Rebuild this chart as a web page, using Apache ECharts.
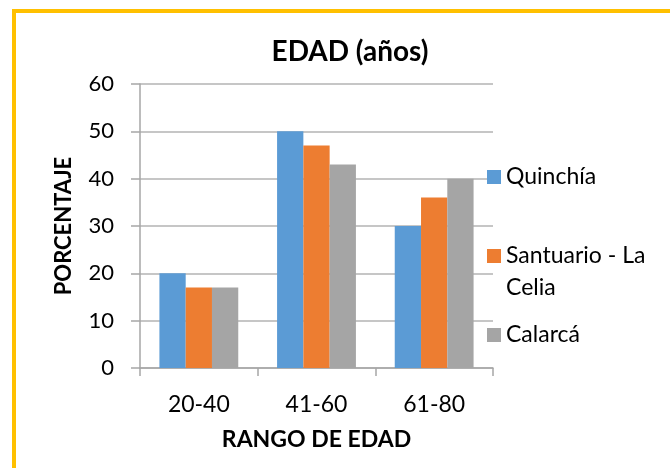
<!DOCTYPE html>
<html lang="es">
<head>
  <meta charset="UTF-8">
  <title>EDAD (años)</title>
  <script src="https://cdn.jsdelivr.net/npm/echarts@6/dist/echarts.min.js"></script>
  <style>
    html, body { margin: 0; padding: 0; background: #fff; }
    #chart { width: 670px; height: 468px; }
    .frame {
      position: absolute;
      left: 12px;
      top: 9px;
      width: 680px;
      height: 480px;
      border-left: 4px solid #FFC000;
      border-top: 4px solid #FFC000;
      pointer-events: none;
    }
  </style>
</head>
<body>
  <div id="chart"></div>
  <div class="frame"></div>
<script>
  const categories = ["20-40", "41-60", "61-80"];
  const quinchia = [20, 50, 30];
  const santuario = [17, 47, 36];
  const calarca = [17, 43, 40];
  const seriesNames = ["Quinchía", "Santuario - La Celia", "Calarcá"];
  const colors = ["#5B9BD5", "#ED7D31", "#A5A5A5"];

  const font = "Lato, 'Open Sans', sans-serif";
  const chart = echarts.init(document.getElementById("chart"));

  // one legend per entry so each can sit where the original puts it
  function legendFor(name, top) {
    return {
      orient: "vertical",
      left: 487,
      top: top,
      padding: 0,
      data: [name],
      itemWidth: 14,
      itemHeight: 14,
      icon: "rect",
      // the long name wraps in the original; first line stays next to the marker
      formatter: (n) => (n === "Santuario - La Celia" ? "Santuario - La" : n),
      textStyle: { fontFamily: font, fontSize: 23, color: "#000", lineHeight: 32 },
      selectedMode: false
    };
  }

  chart.setOption({
    animation: false,
    color: colors,
    title: {
      text: "EDAD (años)",
      left: 350,
      textAlign: "center",
      top: 38,
      padding: 0,
      textStyle: { fontFamily: font, fontSize: 28, fontWeight: "bold", color: "#000" }
    },
    legend: [
      legendFor(seriesNames[0], 161),
      legendFor(seriesNames[1], 240),
      legendFor(seriesNames[2], 319)
    ],
    graphic: [{
      type: "text",
      left: 506,
      top: 272,
      style: { text: "Celia", fontFamily: font, fontSize: 23, fill: "#000", lineHeight: 32 }
    }],
    grid: { left: 140, right: 177, top: 84, bottom: 100 },
    xAxis: {
      type: "category",
      data: categories,
      name: "RANGO DE EDAD",
      nameLocation: "middle",
      nameGap: 60,
      nameTextStyle: { fontFamily: font, fontSize: 23, fontWeight: "bold", color: "#000" },
      axisLine: { lineStyle: { color: "#a6a6a6", width: 1.5 } },
      axisTick: { show: true, length: 8, lineStyle: { color: "#a6a6a6", width: 1.5 } },
      axisLabel: { fontFamily: font, fontSize: 23, color: "#000", margin: 25 }
    },
    yAxis: {
      type: "value",
      min: 0,
      max: 60,
      interval: 10,
      name: "PORCENTAJE",
      nameLocation: "middle",
      nameGap: 65,
      nameTextStyle: { fontFamily: font, fontSize: 22, fontWeight: "bold", color: "#000" },
      axisLine: { show: true, lineStyle: { color: "#a6a6a6", width: 1.5 } },
      axisTick: { show: true, length: 9, lineStyle: { color: "#a6a6a6", width: 1.5 } },
      splitLine: { lineStyle: { color: "#b3b3b3", width: 1.5 } },
      axisLabel: { fontFamily: font, fontSize: 22, color: "#000", margin: 26 }
    },
    series: [
      { name: seriesNames[0], type: "bar", data: quinchia, barGap: "0%", barCategoryGap: "33%" },
      { name: seriesNames[1], type: "bar", data: santuario, barGap: "0%", barCategoryGap: "33%" },
      { name: seriesNames[2], type: "bar", data: calarca, barGap: "0%", barCategoryGap: "33%" }
    ]
  });
</script>
</body>
</html>
